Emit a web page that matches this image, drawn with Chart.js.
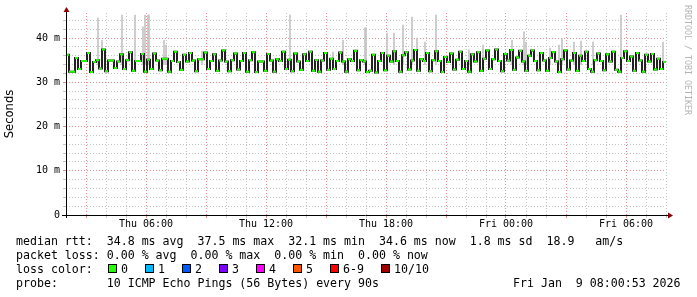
<!DOCTYPE html>
<html>
<head>
<meta charset="utf-8">
<script src="https://cdn.jsdelivr.net/npm/chart.js@4"></script>
<style>
html, body { margin: 0; padding: 0; background: #fff; }
#wrap { position: relative; width: 697px; height: 297px; overflow: hidden; }
#c { position: absolute; left: 0; top: 0; }
.lg { position: absolute; font-family: "DejaVu Sans Mono", monospace; font-size: 11.6px; line-height: 14px; white-space: pre; color: #000; }
.box { position: absolute; width: 7px; height: 7px; border: 1px solid #000; }
#stamp { position: absolute; left: 683px; top: 5px; writing-mode: vertical-rl; font-family: "DejaVu Sans Mono", monospace; font-size: 8.3px; line-height: 10px; color: #b4b4b4; white-space: pre; }
</style>
</head>
<body>
<div id="wrap">
  <canvas id="c" width="697" height="297"></canvas>
  <div id="stamp">RRDTOOL / TOBI OETIKER</div>
  <div class="lg" style="left:16px;top:234px">median rtt:  34.8 ms avg  37.5 ms max  32.1 ms min  34.6 ms now  1.8 ms sd  18.9   am/s</div>
  <div class="lg" style="left:16px;top:248px">packet loss: 0.00 % avg  0.00 % max  0.00 % min  0.00 % now</div>
  <div class="lg" style="left:16px;top:262px">loss color:</div>
  <div id="losslegend"></div>
  <div class="lg" style="left:16px;top:276px">probe:       10 ICMP Echo Pings (56 Bytes) every 90s</div>
  <div class="lg" style="left:513px;top:276px">Fri Jan  9 08:00:53 2026</div>
</div>
<script>
// median rtt (ms), one value every 9 minutes from Thu 02:00
const medianRtt = [
  36.2, 32.4, 32.4, 35.5, 33.0, 34.8, 34.8, 36.6, 32.3, 34.6, 35.0, 33.1, 37.4, 32.5, 34.9, 34.9, 33.2, 34.7, 36.3, 33.0,
  35.0, 36.8, 32.6, 34.8, 34.8, 36.4, 32.4, 35.1, 33.0, 36.5, 34.9, 32.7, 35.3, 35.3, 32.4, 34.8, 36.9, 34.6, 32.8, 36.2,
  34.7, 36.6, 34.9, 32.5, 35.2, 35.2, 36.7, 33.0, 34.8, 36.3, 32.6, 34.9, 37.2, 34.7, 32.5, 35.0, 36.5, 32.9, 34.8, 36.6,
  32.4, 35.0, 36.8, 32.3, 34.7, 34.7, 32.6, 36.4, 34.9, 32.4, 35.2, 34.8, 36.9, 33.0, 35.1, 32.5, 36.5, 34.7, 32.8, 36.3,
  34.8, 36.9, 32.6, 35.0, 32.4, 34.9, 36.6, 32.8, 35.3, 33.0, 34.8, 36.7, 34.7, 32.4, 35.2, 34.8, 37.1, 32.7, 35.0, 34.7,
  32.3, 32.6, 36.2, 32.2, 34.8, 36.6, 32.7, 36.0, 34.7, 37.0, 34.8, 32.4, 36.1, 36.8, 32.9, 34.9, 37.3, 32.6, 35.2, 34.8,
  36.6, 32.5, 35.0, 37.0, 34.8, 32.3, 35.7, 34.6, 36.5, 32.9, 35.1, 36.9, 33.0, 34.8, 32.4, 36.3, 34.7, 36.8, 32.6, 35.3,
  37.2, 33.0, 35.2, 37.4, 34.8, 32.5, 36.4, 34.9, 37.3, 32.8, 35.6, 37.1, 34.7, 32.6, 36.0, 37.2, 34.8, 32.7, 36.6, 34.9,
  32.6, 35.5, 36.8, 34.7, 32.3, 35.2, 37.2, 32.9, 34.9, 36.6, 32.6, 36.0, 34.8, 36.9, 33.0, 32.4, 35.0, 36.5, 34.8, 32.7,
  36.3, 34.7, 36.9, 32.8, 32.4, 35.5, 37.0, 34.8, 35.8, 32.6, 36.6, 34.9, 32.4, 36.2, 34.7, 36.4, 32.9, 35.3, 33.0, 34.6
];
const startHour = 2;      // Thu 02:00
const stepHours = 0.15;   // 9 minutes

// slowest pings (light smoke spikes): hour since Thu 00:00 and max rtt (ms)
const spikeHours = [3.6, 3.8, 4.8, 5.45, 5.85, 5.95, 6.1, 6.15, 6.9, 7.0, 8.8, 13.2, 15.35, 15.85, 16.95, 17.0,
  18.05, 18.4, 18.85, 19.3, 19.55, 19.95, 20.5, 22.15, 22.85, 24.3, 24.9, 25.0, 26.2, 26.65, 26.8, 27.4, 27.75,
  28.35, 29.75, 31.85];
const spikeMax = [44.5, 39.5, 45.2, 45.2, 42.5, 45.2, 45.2, 45.2, 39.5, 38.4, 37, 45.2, 36.8, 39.5, 42.3, 42.3,
  41.1, 41.1, 42.9, 44.7, 40.0, 39.1, 45.2, 37.3, 38.4, 39.5, 41.4, 39.1, 37.7, 38.4, 39.8, 39.1, 39.3,
  39.1, 45.2, 39.1];

const xTickHours = [6, 12, 18, 24, 30];
const xTickText = ['Thu 06:00', 'Thu 12:00', 'Thu 18:00', 'Fri 00:00', 'Fri 06:00'];
const yTickValues = [0, 10, 20, 30, 40];
const yTickText = ['0', '10 m', '20 m', '30 m', '40 m'];

const lossLabels = ['0', '1', '2', '3', '4', '5', '6-9', '10/10'];
const lossColors = ['#26ff00', '#00b8ff', '#0059ff', '#7e00ff', '#ff00ff', '#ff5500', '#ff0000', '#a10000'];

// loss colour legend
const ll = document.getElementById('losslegend');
let lx = 107;
lossLabels.forEach(function(lab, i) {
    const b = document.createElement('div');
    b.className = 'box';
    b.style.left = (lx + 1) + 'px';
    b.style.top = '264px';
    b.style.background = lossColors[i];
    ll.appendChild(b);
    const t = document.createElement('div');
    t.className = 'lg';
    t.style.left = (lx + 14) + 'px';
    t.style.top = '262px';
    t.textContent = lab;
    ll.appendChild(t);
    lx += 30 + lab.length * 7;
});

const medianPts = medianRtt.map(function(v, i) { return { x: startHour + (i + 0.5) * stepHours, y: v }; });
const spikePts = spikeHours.map(function(h, i) { return { x: h, y: [34, spikeMax[i]] }; });

const majorGrid = 'rgba(225,120,120,0.85)';
const minorGrid = 'rgba(190,190,190,0.9)';
const tickFont = { family: 'DejaVu Sans Mono', size: 10 };

const axesPlugin = {
    id: 'axes',
    afterDatasetsDraw(chart) {
        const ctx = chart.ctx, a = chart.chartArea;
        ctx.save();
        ctx.strokeStyle = '#000';
        ctx.lineWidth = 1;
        ctx.beginPath();
        ctx.moveTo(a.left - 4, a.bottom + 0.5);
        ctx.lineTo(a.right + 3, a.bottom + 0.5);
        ctx.moveTo(a.left + 0.5, a.bottom + 3);
        ctx.lineTo(a.left + 0.5, a.top - 2);
        ctx.stroke();
        ctx.fillStyle = '#8b0000';
        ctx.beginPath();
        ctx.moveTo(a.right + 2, a.bottom - 2.5);
        ctx.lineTo(a.right + 7, a.bottom + 0.5);
        ctx.lineTo(a.right + 2, a.bottom + 3.5);
        ctx.fill();
        ctx.beginPath();
        ctx.moveTo(a.left - 2.5, a.top - 1);
        ctx.lineTo(a.left + 0.5, a.top - 6);
        ctx.lineTo(a.left + 3.5, a.top - 1);
        ctx.fill();
        ctx.restore();
    }
};

new Chart(document.getElementById('c'), {
    type: 'line',
    data: {
        datasets: [
            {
                type: 'bar',
                data: spikePts,
                backgroundColor: '#c4c4c4',
                barThickness: 1,
                order: 3
            },
            {
                type: 'line',
                data: medianPts,
                stepped: 'middle',
                borderColor: '#222222',
                borderWidth: 2,
                pointStyle: 'line',
                pointRadius: 1.5,
                pointBorderWidth: 2,
                pointBorderColor: '#26ff00',
                pointBackgroundColor: '#26ff00',
                order: 1
            }
        ]
    },
    options: {
        responsive: false,
        animation: false,
        events: [],
        layout: { padding: { left: 0, top: 13, right: 31, bottom: 0 } },
        plugins: { legend: { display: false }, tooltip: { enabled: false } },
        scales: {
            x: {
                type: 'linear',
                min: 2,
                max: 32,
                offset: false,
                afterFit(s) { s.height = 82; },
                afterBuildTicks(s) {
                    const t = [];
                    for (let h = 2; h <= 32; h++) t.push({ value: h });
                    s.ticks = t;
                },
                border: { display: false, dash: [1, 2] },
                grid: {
                    offset: false,
                    color: function(c) { return c.tick && c.tick.value % 3 === 0 ? majorGrid : minorGrid; },
                    tickLength: 3
                },
                ticks: {
                    autoSkip: false,
                    maxRotation: 0,
                    padding: 0,
                    color: '#000',
                    font: tickFont,
                    callback: function(v) {
                        const k = xTickHours.indexOf(v);
                        return k >= 0 ? xTickText[k] : '';
                    }
                }
            },
            y: {
                type: 'linear',
                min: 0,
                max: 45.65,
                afterFit(s) { s.width = 66; },
                afterBuildTicks(s) {
                    const t = [];
                    for (let v = 0; v <= 44; v += 2) t.push({ value: v });
                    s.ticks = t;
                },
                border: { display: false, dash: [1, 2] },
                grid: {
                    color: function(c) { return c.tick && c.tick.value % 10 === 0 ? majorGrid : minorGrid; },
                    tickLength: 3
                },
                title: {
                    display: true,
                    text: 'Seconds',
                    color: '#000',
                    font: { family: 'DejaVu Sans', size: 11.6 },
                    padding: { top: 3, bottom: 0 }
                },
                ticks: {
                    autoSkip: false,
                    padding: 3,
                    color: '#000',
                    font: tickFont,
                    callback: function(v) {
                        const k = yTickValues.indexOf(v);
                        return k >= 0 ? yTickText[k] : '';
                    }
                }
            }
        }
    },
    plugins: [axesPlugin]
});
</script>
</body>
</html>
